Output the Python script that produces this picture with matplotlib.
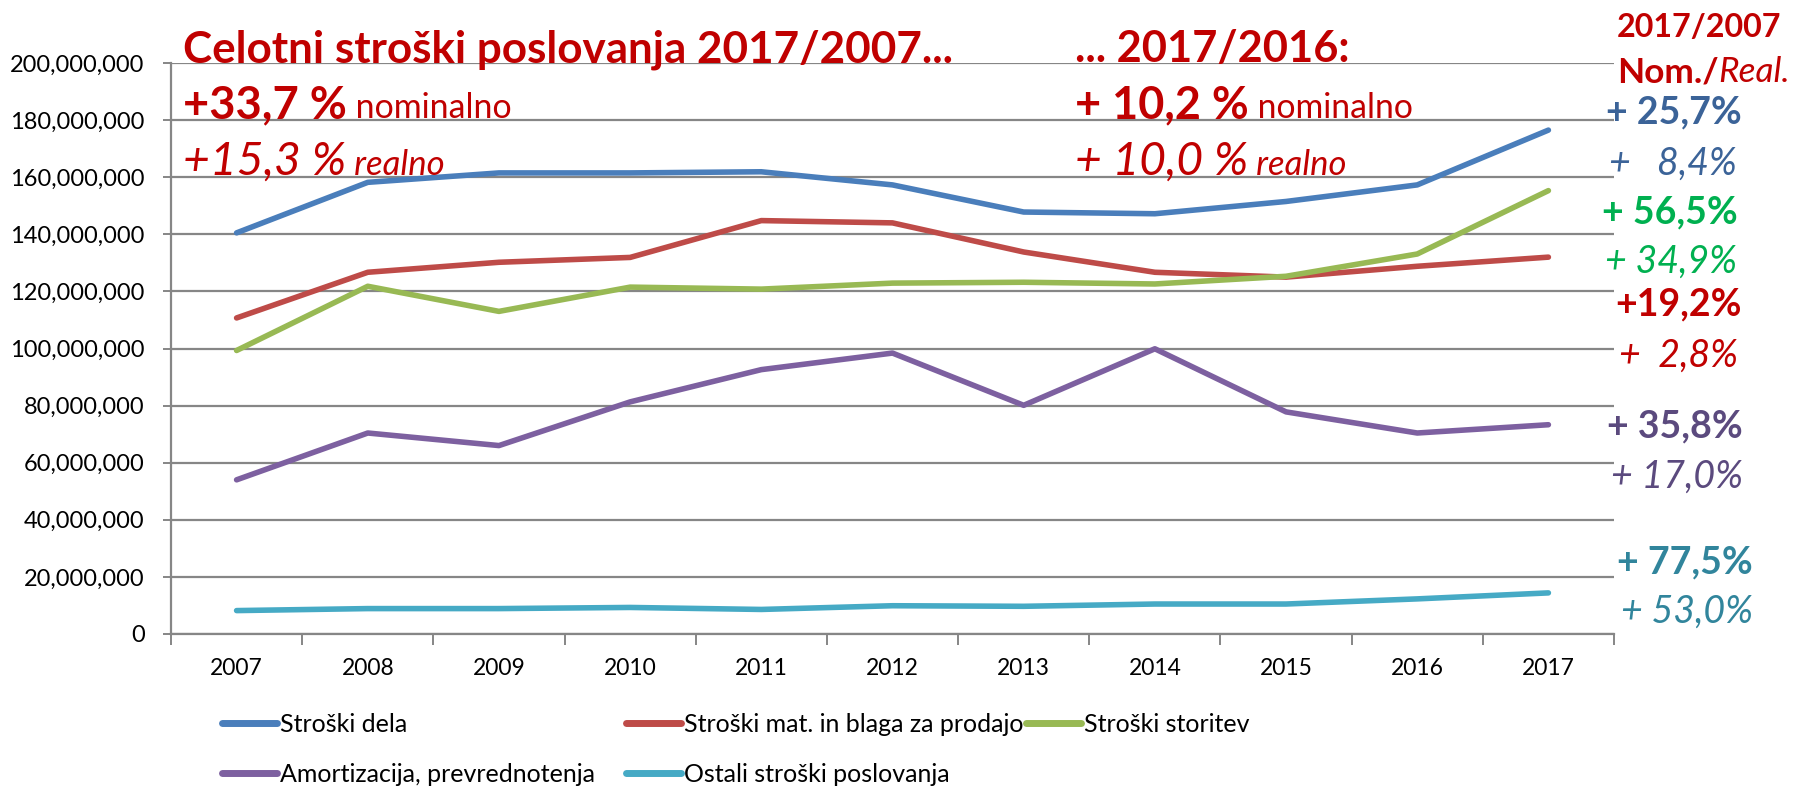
import matplotlib
matplotlib.use("Agg")
import matplotlib.pyplot as plt
from matplotlib.lines import Line2D
from matplotlib.transforms import IdentityTransform
from matplotlib.ticker import FuncFormatter, MultipleLocator, FixedLocator

# ---------------- data (EUR) ----------------
years = [str(y) for y in range(2007, 2018)]
stroski_dela = [140.5e6, 158.2e6, 161.5e6, 161.5e6, 161.9e6, 157.3e6, 147.8e6, 147.2e6, 151.5e6, 157.3e6, 176.5e6]
stroski_mat = [110.7e6, 126.7e6, 130.2e6, 131.9e6, 144.8e6, 144.0e6, 133.8e6, 126.7e6, 125.0e6, 128.8e6, 132.0e6]
stroski_storitev = [99.3e6, 121.8e6, 113.0e6, 121.5e6, 120.8e6, 122.9e6, 123.2e6, 122.6e6, 125.3e6, 133.1e6, 155.3e6]
amortizacija = [54.0e6, 70.4e6, 66.0e6, 81.3e6, 92.6e6, 98.4e6, 80.1e6, 99.9e6, 77.8e6, 70.4e6, 73.3e6]
ostali = [8.2e6, 8.9e6, 8.9e6, 9.3e6, 8.6e6, 9.9e6, 9.7e6, 10.5e6, 10.5e6, 12.3e6, 14.4e6]

series_names = ["Stroški dela", "Stroški mat. in blaga za prodajo", "Stroški storitev",
                "Amortizacija, prevrednotenja", "Ostali stroški poslovanja"]
series_values = [stroski_dela, stroski_mat, stroski_storitev, amortizacija, ostali]
series_colors = ["#4A7EBB", "#BE4B48", "#98B954", "#7D60A0", "#46AAC5"]

nominal_change = ["+ 25,7%", "+ 56,5%", "+19,2%", "+ 35,8%", "+ 77,5%"]
real_change = ["+   8,4%", "+ 34,9%", "+  2,8%", "+ 17,0%", "+ 53,0%"]
change_colors = ["#3B6398", "#00B050", "#C00000", "#5B4A7E", "#31859C"]

RED = "#C00000"
GRID = "#868686"
FONT = "Lato"

W, H = 1793, 786
plt.rcParams["font.family"] = [FONT, "DejaVu Sans"]
fig = plt.figure(figsize=(W / 100, H / 100), dpi=100)
fig.patch.set_facecolor("white")

# axes placement (pixels)
ax_left, ax_right, ax_top, ax_bottom = 171, 1614, 63, 634
ax = fig.add_axes([ax_left / W, 1 - ax_bottom / H, (ax_right - ax_left) / W, (ax_bottom - ax_top) / H])

x = list(range(len(years)))
for vals, col in zip(series_values, series_colors):
    ax.plot(x, vals, color=col, lw=4.0, solid_capstyle="round", solid_joinstyle="round", zorder=3)

ax.set_xlim(-0.5, len(years) - 0.5)
ax.set_ylim(0, 200e6)
ax.yaxis.set_major_locator(MultipleLocator(20e6))
ax.yaxis.set_major_formatter(FuncFormatter(lambda v, p: f"{v:,.0f}"))
ax.set_xticks(x)
ax.set_xticklabels(years)
ax.xaxis.set_minor_locator(FixedLocator([i - 0.5 for i in range(len(years) + 1)]))

ax.grid(axis="y", color=GRID, lw=1.6, zorder=0)
ax.set_axisbelow(True)
for s in ["top", "right"]:
    ax.spines[s].set_visible(False)
for s in ["left", "bottom"]:
    ax.spines[s].set_color(GRID)
    ax.spines[s].set_linewidth(1.6)
ax.tick_params(axis="y", which="major", length=6, color=GRID, width=1.4, labelsize=17, pad=13)
ax.tick_params(axis="x", which="major", length=0, labelsize=16.5, pad=17)
ax.tick_params(axis="x", which="minor", length=8, color=GRID, width=1.4)
for lab in ax.get_xticklabels() + ax.get_yticklabels():
    lab.set_color("black")

# ---------------- text helpers ----------------
renderer = fig.canvas.get_renderer()


def seq(x0, yb, parts, width=None, align="left"):
    objs = [fig.text(0, 0, s, transform=IdentityTransform(), va="baseline", ha="left", **kw)
            for s, kw in parts]

    def widths():
        return [o.get_window_extent(renderer).width for o in objs]

    if width:
        k = width / sum(widths())
        for o in objs:
            o.set_fontsize(o.get_fontsize() * k)
    ws = widths()
    cx = x0 if align == "left" else x0 - sum(ws)
    for o, w in zip(objs, ws):
        o.set_position((cx, H - yb))
        cx += w
    return objs


B = dict(weight="bold", color=RED)
N = dict(color=RED)
I = dict(style="italic", color=RED)

seq(183, 63, [("Celotni stroški poslovanja 2017/2007...", dict(size=30, **B))], width=768)
seq(183, 118, [("+33,7 %", dict(size=28, **B)), (" nominalno", dict(size=21, **N))], width=328)
seq(183, 175, [("+15,3 %", dict(size=28, **I)), (" realno", dict(size=21, **I))], width=261)

seq(1075, 62, [("... 2017/2016:", dict(size=30, **B))], width=273)
seq(1075, 118, [("+ 10,2 %", dict(size=28, **B)), (" nominalno", dict(size=21, **N))], width=337)
seq(1075, 175, [("+ 10,0 %", dict(size=28, **I)), (" realno", dict(size=21, **I))], width=271)

seq(1617, 37, [("2017/2007", dict(size=23, **B))], width=165)
seq(1617, 82, [("Nom./", dict(size=24, **B)), ("Real.", dict(size=24, **I))], width=173)

nom_base = [123, 223, 315, 437, 573]
real_base = [175, 273, 367, 488, 623]
nom_right = [1742, 1738, 1742, 1743, 1753]
real_right = [1737, 1737, 1738, 1743, 1753]
for txt, col, yb, xr in zip(nominal_change, change_colors, nom_base, nom_right):
    seq(xr, yb, [(txt, dict(size=27, weight="bold", color=col))], align="right")
for txt, col, yb, xr in zip(real_change, change_colors, real_base, real_right):
    seq(xr, yb, [(txt, dict(size=27, style="italic", color=col))], align="right")

# ---------------- legend (row-wise, three columns) ----------------
handles = [Line2D([], [], color=c, lw=5, solid_capstyle="round") for c in series_colors]
columns = [([0, 3], 222), ([1, 4], 626), ([2], 1026)]
for idx, xpx in columns:
    leg = fig.legend([handles[i] for i in idx], [series_names[i] for i in idx],
                     loc="upper left", bbox_to_anchor=(xpx / W, 1 - 713 / H),
                     frameon=False, fontsize=18, handlelength=2.2, handletextpad=0.12,
                     labelspacing=1.06, borderpad=0, borderaxespad=0)

fig.savefig("out.png", dpi=100, facecolor="white")
